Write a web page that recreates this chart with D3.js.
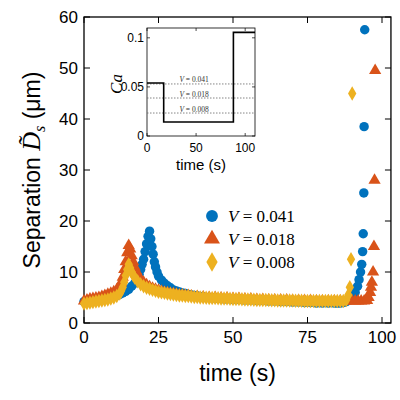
<!DOCTYPE html>
<html><head><meta charset="utf-8">
<script src="https://cdn.jsdelivr.net/npm/d3@7"></script>
<style>body{margin:0;background:#fff}</style>
</head><body><svg id="c" width="400" height="400"></svg>
<script>
// main series [time, separation]
const blue = [[0,4.2],[1,4.3],[2,4.4],[3,4.5],[4,4.6],[5,4.7],[6,4.8],[7,4.9],[8,5],[9,5.1],[10,5.2],[11,5.4],[12,5.6],[13,5.9],[14,6.2],[15,6.6],[16,7.2],[17,7.8],[18,8.6],[18.5,9.5],[19,10.5],[19.5,11.5],[20,12.5],[20.5,14],[21,15.5],[21.5,17],[22,18],[22.4,16.5],[22.8,15],[23.2,13.5],[23.6,12],[24,11],[24.5,10],[25,9.2],[26,8.4],[27,7.8],[28,7.3],[29,6.9],[30,6.5],[31,6.3],[32,6.1],[33,5.9],[34,5.8],[35,5.6],[36,5.5],[37,5.4],[38,5.3],[39,5.2],[40,5.1],[41,5],[42,5],[43,4.9],[44,4.9],[45,4.8],[46,4.8],[47,4.7],[48,4.7],[50,4.6],[52,4.6],[54,4.5],[56,4.5],[58,4.4],[60,4.4],[62,4.3],[64,4.3],[66,4.2],[68,4.2],[70,4.1],[72,4.1],[74,4],[76,4],[78,3.9],[80,3.9],[82,3.9],[84,3.9],[85,3.9],[86,3.9],[87,4],[88,4.2],[89,4.5],[90,5],[91,6],[91.8,7.2],[92.3,8.5],[92.8,10],[93.2,11.5],[93.5,14],[93.7,17.5],[93.9,25.5],[94,38.5],[94.2,57.5]];
const orange = [[0,4.3],[1,4.5],[2,4.7],[3,4.8],[4,4.9],[5,5],[6,5.2],[7,5.4],[8,5.6],[9,5.8],[10,6.1],[11,6.5],[12,7.2],[12.5,8],[13,9],[13.5,10.5],[14,12],[14.5,13.8],[15,15.2],[15.5,14.5],[16,13.2],[16.5,12],[17,11],[17.5,10.2],[18,9.5],[19,8.6],[20,8],[21,7.5],[22,7.1],[23,6.8],[24,6.6],[25,6.4],[26,6.2],[27,6],[28,5.9],[29,5.8],[30,5.7],[31,5.6],[32,5.5],[33,5.5],[34,5.4],[35,5.4],[36,5.3],[38,5.2],[40,5.1],[42,5],[44,5],[46,4.9],[48,4.9],[50,4.8],[52,4.8],[54,4.7],[56,4.7],[58,4.6],[60,4.6],[62,4.5],[64,4.5],[66,4.5],[68,4.5],[70,4.4],[72,4.4],[74,4.4],[76,4.4],[78,4.3],[80,4.3],[82,4.3],[84,4.3],[86,4.3],[88,4.3],[89,4.3],[90,4.3],[91,4.3],[92,4.3],[93,4.3],[94,4.3],[95,4.4],[95.5,5],[96,6],[96.3,7],[96.6,8],[97,10],[97.3,15],[97.5,28],[97.7,49.5]];
const yellow = [[0,3.8],[1,3.9],[2,4],[3,4.1],[4,4.2],[5,4.3],[6,4.4],[7,4.5],[8,4.6],[9,4.8],[10,5],[11,5.3],[12,5.8],[12.5,6.3],[13,7],[13.5,8],[14,9.3],[14.5,10.5],[15,11.5],[15.5,10.8],[16,10],[16.5,9.4],[17,8.9],[18,8.2],[19,7.6],[20,7.2],[21,6.9],[22,6.7],[23,6.5],[24,6.3],[25,6.1],[26,6],[27,5.9],[28,5.8],[29,5.7],[30,5.6],[31,5.5],[32,5.4],[33,5.4],[34,5.3],[35,5.3],[36,5.2],[37,5.1],[38,5.1],[39,5],[40,5],[41,4.95],[42,4.9],[43,4.9],[44,4.9],[45,4.85],[46,4.8],[47,4.8],[48,4.8],[49,4.75],[50,4.7],[51,4.7],[52,4.7],[53,4.65],[54,4.6],[55,4.6],[56,4.6],[57,4.55],[58,4.5],[59,4.5],[60,4.5],[61,4.5],[62,4.5],[63,4.45],[64,4.45],[65,4.4],[66,4.4],[67,4.4],[68,4.4],[69,4.4],[70,4.4],[71,4.35],[72,4.35],[73,4.35],[74,4.3],[75,4.3],[76,4.3],[77,4.3],[78,4.3],[79,4.3],[80,4.3],[81,4.3],[82,4.3],[83,4.3],[84,4.3],[85,4.3],[86,4.3],[87,4.3],[88,4.5],[88.7,5.5],[89.2,7],[89.6,12.5],[90,45]];
const seriesNames = ["V = 0.041","V = 0.018","V = 0.008"];
const colors = ["#0072BD","#D95319","#EDB120"];
// inset: Ca protocol
const caSteps = [[0,0.054],[17,0.054],[17,0.0142],[88,0.0142],[88,0.1055],[110,0.1055]];
const caLevels = [0.053,0.0387,0.0234];
const xTicks = [0,25,50,75,100], yTicks = [0,10,20,30,40,50,60];

const svg = d3.select("#c");
const x = d3.scaleLinear().domain([0,100]).range([84,382]);
const y = d3.scaleLinear().domain([0,60]).range([323,17]);
const L=84, R=x(103), T=17, B=323;

// frame + inward ticks on all sides
svg.append("rect").attr("x",L).attr("y",T).attr("width",R-L).attr("height",B-T)
  .attr("fill","none").attr("stroke","#000").attr("stroke-width",1.3);
xTicks.forEach(t=>{
  svg.append("line").attr("x1",x(t)).attr("x2",x(t)).attr("y1",B).attr("y2",B-6).attr("stroke","#000");
  svg.append("line").attr("x1",x(t)).attr("x2",x(t)).attr("y1",T).attr("y2",T+6).attr("stroke","#000");
  svg.append("text").attr("x",x(t)).attr("y",B+20).attr("text-anchor","middle")
    .attr("font-family","Liberation Sans").attr("font-size",17).text(t);
});
yTicks.forEach(t=>{
  svg.append("line").attr("x1",L).attr("x2",L+6).attr("y1",y(t)).attr("y2",y(t)).attr("stroke","#000");
  svg.append("line").attr("x1",R).attr("x2",R-6).attr("y1",y(t)).attr("y2",y(t)).attr("stroke","#000");
  svg.append("text").attr("x",L-6).attr("y",y(t)+6).attr("text-anchor","end")
    .attr("font-family","Liberation Sans").attr("font-size",17).text(t);
});
svg.append("text").attr("x",(L+R)/2).attr("y",381).attr("text-anchor","middle")
  .attr("font-family","Liberation Sans").attr("font-size",23).text("time (s)");
const yl = svg.append("text").attr("transform","translate(40,170) rotate(-90)").attr("text-anchor","middle")
  .attr("font-family","Liberation Sans").attr("font-size",23);
yl.append("tspan").text("Separation ");
yl.append("tspan").attr("font-family","Liberation Serif").attr("font-style","italic").attr("font-size",26).text("D\u0303");
yl.append("tspan").attr("font-family","Liberation Serif").attr("font-style","italic").attr("font-size",16).attr("dy",5).text("s");
yl.append("tspan").attr("dy",-5).text(" (\u03bcm)");

const syms = [d3.symbolCircle, d3.symbolTriangle, d3.symbolDiamond];
const sizes = [70, 65, 60];
[blue, orange, yellow].forEach((data,i)=>{
  svg.append("g").selectAll("path").data(data).join("path")
    .attr("transform",d=>`translate(${x(d[0])},${y(d[1])})`)
    .attr("d",d3.symbol().type(syms[i]).size(sizes[i])).attr("fill",colors[i]);
});

// legend
seriesNames.forEach((n,i)=>{
  const ly = 216 + i*23;
  svg.append("path").attr("transform",`translate(212,${ly})`)
    .attr("d",d3.symbol().type(syms[i]).size(110)).attr("fill",colors[i]);
  const t = svg.append("text").attr("x",228).attr("y",ly+6).attr("font-family","Liberation Serif").attr("font-size",17);
  t.append("tspan").attr("font-style","italic").text("V");
  t.append("tspan").text(n.slice(1));
});

// inset
const ix = d3.scaleLinear().domain([0,110]).range([147,255]);
const iy = d3.scaleLinear().domain([0,0.11]).range([136,28]);
const g = svg.append("g");
g.append("rect").attr("x",147).attr("y",28).attr("width",108).attr("height",108).attr("fill","#fff").attr("stroke","#000").attr("stroke-width",0.8);
[0,50,100].forEach(t=>{
  g.append("line").attr("x1",ix(t)).attr("x2",ix(t)).attr("y1",136).attr("y2",133).attr("stroke","#000").attr("stroke-width",0.7);
  g.append("line").attr("x1",ix(t)).attr("x2",ix(t)).attr("y1",28).attr("y2",31).attr("stroke","#000").attr("stroke-width",0.7);
  g.append("text").attr("x",ix(t)).attr("y",152).attr("text-anchor","middle").attr("font-family","Liberation Sans").attr("font-size",12).text(t);
});
[[0,"0"],[0.05,"0.05"],[0.1,"0.1"]].forEach(([t,s])=>{
  g.append("line").attr("x1",147).attr("x2",150).attr("y1",iy(t)).attr("y2",iy(t)).attr("stroke","#000").attr("stroke-width",0.7);
  g.append("line").attr("x1",255).attr("x2",252).attr("y1",iy(t)).attr("y2",iy(t)).attr("stroke","#000").attr("stroke-width",0.7);
  g.append("text").attr("x",144).attr("y",iy(t)+4).attr("text-anchor","end").attr("font-family","Liberation Sans").attr("font-size",12).text(s);
});
caLevels.forEach((v,i)=>{
  g.append("line").attr("x1",147).attr("x2",255).attr("y1",iy(v)).attr("y2",iy(v))
    .attr("stroke","#666").attr("stroke-width",0.8).attr("stroke-dasharray","1.5,1.5");
  const t = g.append("text").attr("x",ix(33)).attr("y",iy(v)-1.5).attr("font-family","Liberation Serif").attr("font-size",7.5).attr("fill","#333");
  t.append("tspan").attr("font-style","italic").text("V");
  t.append("tspan").text(seriesNames[i].slice(1));
});
g.append("path").datum(caSteps).attr("d",d3.line().x(d=>ix(d[0])).y(d=>iy(d[1])))
  .attr("fill","none").attr("stroke","#000").attr("stroke-width",1.6);
g.append("text").attr("x",201).attr("y",170).attr("text-anchor","middle").attr("font-family","Liberation Sans").attr("font-size",15).text("time (s)");
g.append("text").attr("transform","translate(122,84) rotate(-90)").attr("text-anchor","middle")
  .attr("font-family","Liberation Serif").attr("font-style","italic").attr("font-size",17).text("Ca");
</script></body></html>
